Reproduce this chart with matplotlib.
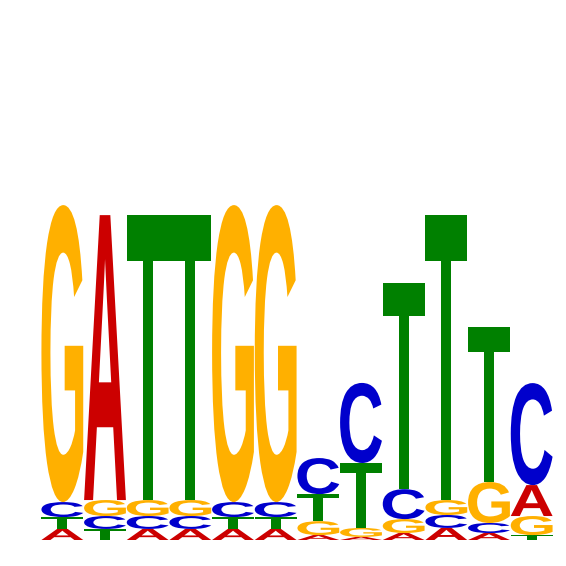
import numpy as np
import matplotlib
matplotlib.use('Agg')
from matplotlib import pyplot as plt
from matplotlib.textpath import TextPath
from matplotlib.patches import PathPatch
from matplotlib.font_manager import FontProperties
from matplotlib.transforms import Affine2D

# information content per letter (bits), positions 1..12
positions = list(range(1, 13))
h_A = [0.065, 1.676, 0.065, 0.065, 0.065, 0.065, 0.029, 0.018, 0.041, 0.071, 0.041, 0.182]
h_C = [0.088, 0.076, 0.076, 0.076, 0.088, 0.088, 0.212, 0.471, 0.176, 0.076, 0.059, 0.600]
h_G = [1.747, 0.094, 0.094, 0.094, 1.747, 1.747, 0.082, 0.053, 0.082, 0.088, 0.241, 0.112]
h_T = [0.070, 0.065, 1.676, 1.676, 0.070, 0.070, 0.159, 0.382, 1.212, 1.676, 0.912, 0.029]

letters = ['A', 'C', 'G', 'T']
colors = {'A': '#CC0000', 'C': '#0000CC', 'G': '#FFB000', 'T': '#008000'}
heights = {'A': h_A, 'C': h_C, 'G': h_G, 'T': h_T}

fp = FontProperties(family='Liberation Sans', weight='bold')

fig = plt.figure(figsize=(5.66, 5.66), dpi=100)
ax = fig.add_axes([41/566, 26/566, 512/566, 340/566])
ax.set_xlim(0.5, 12.5)
ax.set_ylim(0, 2)
ax.axis('off')

def draw_letter(ch, x, y, w, h):
    tp = TextPath((0, 0), ch, size=1, prop=fp)
    bb = tp.get_extents()
    tr = Affine2D().translate(-bb.x0, -bb.y0).scale(w / bb.width, h / bb.height).translate(x, y)
    path = tr.transform_path(tp)
    ax.add_patch(PathPatch(path, facecolor=colors[ch], edgecolor='none', transform=ax.transData))

for i, pos in enumerate(positions):
    col = sorted(letters, key=lambda c: heights[c][i])
    y = 0
    for ch in col:
        hh = heights[ch][i]
        draw_letter(ch, pos - 0.49, y, 0.98, hh)
        y += hh

fig.savefig('out.png', dpi=100)
